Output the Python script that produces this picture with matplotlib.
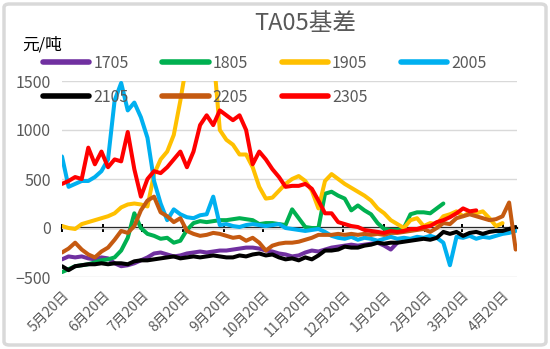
import numpy as np
import matplotlib
matplotlib.use("Agg")
import matplotlib.pyplot as plt
import matplotlib.dates as mdates
from matplotlib.patches import FancyBboxPatch
import datetime as dt

plt.rcParams['font.family'] = ['Noto Sans CJK SC', 'DejaVu Sans']

# ---- data (basis, yuan/ton), sampled every 5 days starting 5/20 ----
start_date = dt.date(2022, 5, 20)
step_days = 5

s1705 = [-320, -290, -300, -290, -310, -320, -300, -310, -360, -390, -380, -360, -330, -300,
         -260, -250, -270, -290, -280, -260, -250, -240, -250, -240, -230, -230, -220, -210,
         -200, -200, -210, -230, -240, -260, -270, -290, -280, -250, -230, -240, -220, -200,
         -190, -180, -170, -180, -170, -160, -150, -180, -220, -150]
s1805 = [-450, -420, -390, -380, -370, -350, -330, -320, -300, -230, -100, 150, 0, -60,
         -80, -110, -100, -150, -130, -20, 50, 70, 60, 70, 80, 80, 90, 100, 90, 80, 40, 50,
         50, 40, 30, 190, 100, 10, 0, 0, 350, 370, 330, 300, 180, 230, 180, 140, 50, -10,
         -20, -20, 0, 140, 160, 160, 150, 200, 250]
s1905 = [20, 0, -10, 40, 60, 80, 100, 120, 150, 210, 240, 250, 240, 220, 550, 700, 780,
         950, 1300, 1700, 1800, 1900, 1900, 1800, 1000, 900, 850, 750, 750, 620, 420, 300,
         310, 380, 450, 500, 530, 480, 380, 200, 480, 550, 500, 450, 410, 370, 330, 280, 200,
         150, 80, 40, 0, 80, 100, 20, 50, 40, 120, 140, 170, 120, 160, 150, 170, 100, 20, 50]
s2005 = [730, 420, 450, 480, 480, 520, 580, 700, 1300, 1480, 1200, 1280, 1130, 920, 480,
         250, 80, 190, 140, 110, 100, 130, 140, 320, 30, 40, 20, 10, 30, 40, 30, 20, 30, 40,
         0, -10, -20, -30, -20, -10, -40, -80, -100, -110, -90, -120, -100, -110, -130, -110,
         -90, -110, -100, -110, -90, -100, -80, -100, -150, -380, -90, -100, -80, -110, -90,
         -100, -80, -60, -50, -30]
s2105 = [-390, -430, -390, -380, -370, -370, -360, -370, -360, -360, -370, -340, -330, -330,
         -320, -310, -300, -290, -310, -300, -290, -300, -290, -280, -290, -300, -300, -280,
         -290, -270, -260, -280, -270, -300, -320, -310, -330, -300, -320, -280, -230, -230,
         -220, -190, -200, -200, -180, -170, -150, -160, -150, -150, -140, -130, -120, -110,
         -120, -100, -40, -60, -40, -80, -50, -40, -60, -40, -30, -30, -10, 10]
s2205 = [-250, -210, -150, -220, -270, -300, -240, -200, -120, -30, -50, 20, 180, 280, 320,
         160, 120, 60, 100, -30, -60, -80, -70, -50, -60, -80, -100, -90, -130, -100, -150,
         -230, -180, -160, -150, -150, -140, -120, -100, -70, -70, -70, -60, -70, -60, -70,
         -60, -70, -60, -70, -50, -50, -40, -30, -20, -10, -40, 0, 50, 40, 100, 120, 140,
         120, 100, 80, 90, 120, 260, -220]
s2305 = [450, 480, 520, 500, 820, 650, 780, 620, 700, 680, 980, 600, 320, 500, 580, 560,
         620, 700, 780, 620, 780, 1050, 1150, 1050, 1200, 1150, 1100, 1150, 1000, 650, 780,
         700, 600, 520, 420, 430, 430, 450, 400, 280, 150, 150, 60, 40, 20, 10, -20, -30, -40,
         -50, -30, -40, -30, -10, -10, 10, 20, 60, 80, 110, 150, 200, 170, 180]

series_names = ['1705', '1805', '1905', '2005', '2105', '2205', '2305']
series_vals = [s1705, s1805, s1905, s2005, s2105, s2205, s2305]
series_colors = ['#7030A0', '#00B050', '#FFC000', '#00B0F0', '#000000', '#C55A11', '#FF0000']

y_ticks = [-500, 0, 500, 1000, 1500]
tick_months = [5, 6, 7, 8, 9, 10, 11, 12, 1, 2, 3, 4]

# ---- figure ----
W, H = 550, 349
fig = plt.figure(figsize=(W / 100, H / 100), dpi=100)
fig.patch.set_facecolor('white')
border = FancyBboxPatch((4 / W, 4 / H), 1 - 8 / W, 1 - 8 / H,
                        boxstyle="round,pad=0,rounding_size=0.01",
                        transform=fig.transFigure, facecolor='white',
                        edgecolor='#D9D9D9', linewidth=2.5, zorder=-10)
fig.patches.append(border)

ax = fig.add_axes([62 / W, 1 - 277 / H, (517 - 62) / W, (277 - 81) / H])
ax.set_facecolor('none')

for name, vals, col in zip(series_names, series_vals, series_colors):
    xs = [start_date + dt.timedelta(days=step_days * i) for i in range(len(vals))]
    ax.plot(xs, vals, color=col, lw=2.9, label=name, solid_joinstyle='round',
            solid_capstyle='round', zorder=3)

ax.set_ylim(-500, 1500)
ax.set_yticks(y_ticks)
ax.set_xlim(start_date, start_date + dt.timedelta(days=346))
ax.grid(axis='y', color='#D9D9D9', lw=1.0, zorder=0)
for s in ax.spines.values():
    s.set_visible(False)
ax.tick_params(axis='y', length=0, labelsize=11.5, labelcolor='#595959', pad=8)

tick_dates = []
for k, m in enumerate(tick_months):
    yr = start_date.year if m >= 5 else start_date.year + 1
    tick_dates.append(dt.date(yr, m, 20))
ax.set_xticks(tick_dates)
ax.set_xticklabels([f"{d.month}月{d.day}日" for d in tick_dates], rotation=45,
                   ha='right', va='top', rotation_mode='anchor')
ax.tick_params(axis='x', length=0, labelsize=10, labelcolor='#595959', pad=8)

# zero axis line with tick marks
sec = ax.secondary_xaxis(0.25)
sec.set_xticks(tick_dates)
sec.set_xticklabels([])
sec.spines['bottom'].set_color('black')
sec.spines['bottom'].set_linewidth(1.6)
sec.tick_params(axis='x', direction='inout', length=6, width=1.4, color='black')

# title & unit
fig.text(305 / W, 1 - 24 / H, 'TA05基差', ha='center', va='center', fontsize=17,
         color='#595959')
fig.text(22 / W, 1 - 45 / H, '元/吨', ha='left', va='center', fontsize=12, color='black')

handles, labels = ax.get_legend_handles_labels()
# row-wise legend order (matplotlib fills column by column)
order = [0, 4, 1, 5, 2, 6, 3]
leg = fig.legend([handles[i] for i in order], [labels[i] for i in order], ncol=4,
                 loc='upper left', bbox_to_anchor=(43 / W, 1 - 55 / H), frameon=False,
                 fontsize=11.5, handlelength=2.9, handletextpad=0.25,
                 columnspacing=2.1, labelspacing=1.05, borderpad=0, borderaxespad=0)
for t in leg.get_texts():
    t.set_color('#595959')
for l in leg.get_lines():
    l.set_linewidth(4)

fig.savefig('out.png', dpi=100, facecolor='white')
